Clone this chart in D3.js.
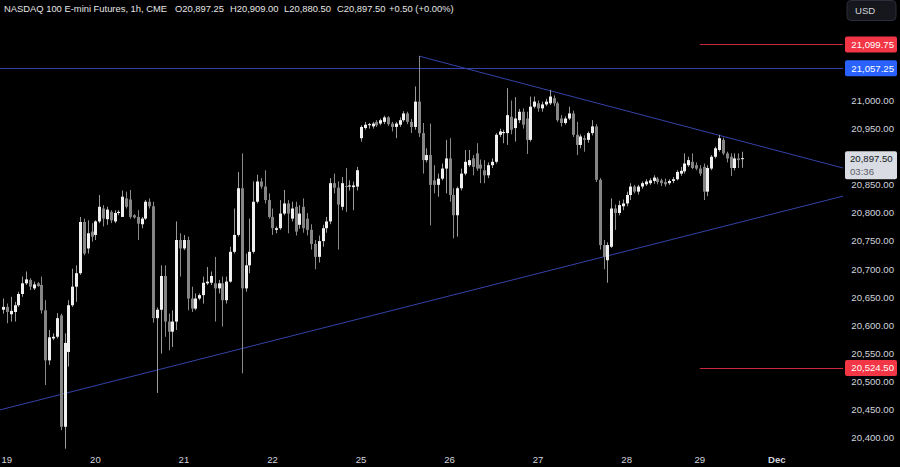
<!DOCTYPE html>
<html><head><meta charset="utf-8">
<script src="https://cdn.jsdelivr.net/npm/d3@7"></script>
<style>html,body{margin:0;padding:0;background:#000;overflow:hidden}</style>
</head><body><svg id="c" width="900" height="467"></svg>
<script>
// ---- DATA (hourly candles, [open, high, low, close]) ----
const candles = [
 [20628,20648,20621,20633],[20633,20639,20604,20624],[20620,20651,20607,20626],[20624,20642,20607,20636],
 [20636,20660,20633,20656],[20656,20687,20651,20675],[20675,20696,20672,20682],[20681,20684,20663,20669],
 [20666,20678,20663,20673],[20675,20677,20669,20670],[20672,20687,20621,20627],[20627,20645,20494,20538],
 [20538,20592,20530,20579],[20577,20586,20574,20580],[20580,20622,20577,20613],[20618,20621,20414,20420],
 [20420,20586,20381,20569],[20553,20645,20527,20636],[20636,20701,20633,20669],[20669,20707,20642,20693],
 [20693,20793,20690,20784],[20784,20790,20725,20728],[20737,20787,20728,20764],[20767,20782,20749,20758],
 [20761,20787,20752,20785],[20785,20832,20782,20811],[20808,20814,20776,20790],[20789,20811,20779,20806],
 [20802,20805,20782,20787],[20785,20805,20782,20800],[20800,20805,20796,20802],[20793,20840,20793,20829],
 [20826,20838,20808,20811],[20824,20841,20790,20793],[20796,20798,20790,20792],[20793,20805,20752,20781],
 [20780,20793,20773,20790],[20790,20823,20788,20820],[20820,20826,20808,20812],[20812,20820,20605,20613],
 [20613,20632,20480,20628],[20628,20707,20550,20688],[20688,20707,20580,20607],[20607,20621,20556,20589],
 [20589,20627,20562,20607],[20607,20785,20592,20752],[20752,20764,20687,20737],[20737,20761,20734,20752],
 [20752,20758,20627,20648],[20648,20669,20624,20630],[20630,20657,20627,20648],[20648,20657,20645,20654],
 [20654,20687,20639,20676],[20675,20704,20672,20678],[20676,20696,20672,20688],[20675,20722,20607,20666],
 [20666,20681,20657,20675],[20675,20687,20598,20645],[20645,20687,20639,20678],[20678,20740,20676,20731],
 [20731,20808,20728,20761],[20761,20873,20758,20844],[20844,20906,20515,20666],[20666,20728,20660,20707],
 [20707,20790,20693,20731],[20731,20856,20728,20820],[20820,20868,20817,20856],[20856,20862,20843,20847],
 [20847,20876,20817,20823],[20823,20835,20790,20793],[20793,20808,20761,20773],[20770,20776,20764,20773],
 [20773,20823,20770,20799],[20799,20841,20796,20817],[20817,20823,20764,20799],[20790,20820,20785,20808],
 [20811,20820,20760,20767],[20779,20814,20772,20799],[20811,20826,20765,20773],[20790,20800,20760,20770],
 [20770,20780,20735,20745],[20745,20752,20700,20722],[20722,20760,20712,20750],[20750,20779,20740,20773],
 [20773,20793,20765,20785],[20785,20862,20780,20853],[20853,20870,20835,20845],[20845,20856,20735,20815],
 [20811,20864,20805,20853],[20848,20880,20802,20847],[20847,20858,20840,20849],[20846,20856,20805,20849],
 [20847,20882,20840,20876],
 [20933,20956,20927,20953],[20951,20962,20948,20957],[20956,20960,20950,20958],[20954,20962,20950,20959],
 [20962,20965,20953,20956],[20959,20968,20956,20965],[20962,20973,20958,20970],[20970,20972,20955,20958],
 [20959,20962,20945,20953],[20953,20962,20933,20959],[20957,20970,20953,20965],[20965,20981,20962,20977],
 [20977,20980,20958,20962],[20962,20967,20942,20953],[20953,21025,20948,20998],[20998,21079,20935,20942],
 [20942,20960,20870,20894],[20894,20915,20890,20903],[20903,20959,20778,20850],[20858,20885,20835,20850],
 [20850,20870,20829,20861],[20861,20888,20858,20879],[20879,20930,20835,20897],
 [20897,20933,20820,20832],[20832,20844,20755,20796],[20796,20847,20758,20844],[20844,20879,20840,20870],
 [20870,20912,20867,20891],[20885,20912,20882,20894],[20897,20903,20867,20882],[20906,20924,20875,20879],
 [20886,20895,20853,20879],[20876,20894,20853,20867],[20867,20890,20862,20885],[20885,20897,20880,20891],
 [20891,20942,20888,20939],[20939,20950,20935,20945],[20942,20948,20924,20944],[20942,21022,20921,20974],
 [20971,21000,20940,20948],[20951,21006,20927,20968],[20965,20985,20960,20980],[20980,20986,20950,20957],
 [20968,20980,20905,20930],[20930,21007,20927,20989],[20989,21007,20986,20998],[20995,21000,20980,20986],
 [20986,20998,20980,20993],[20993,21003,20990,20998],[20995,21019,20992,21007],[21004,21009,20990,20995],
 [20995,20998,20962,20965],[20968,20974,20954,20960],[20960,20972,20957,20968],[20968,20989,20965,20977],
 [20977,20982,20935,20939],[20939,20962,20903,20921],[20921,20940,20915,20936],[20933,20938,20909,20930],
 [20930,20945,20925,20942],[20942,20965,20938,20954],[20954,20958,20855,20859],[20859,20862,20735,20743],
 [20743,20752,20700,20722],[20716,20748,20676,20743],[20740,20826,20738,20808],[20808,20815,20770,20800],
 [20800,20822,20796,20814],[20812,20824,20805,20817],
 [20817,20838,20812,20832],[20832,20853,20823,20847],[20847,20850,20835,20838],[20838,20850,20833,20847],
 [20847,20856,20843,20853],[20851,20860,20848,20856],[20853,20862,20850,20858],[20857,20867,20852,20863],
 [20861,20864,20851,20855],[20858,20861,20848,20853],[20855,20861,20847,20851],[20853,20860,20850,20857],
 [20857,20864,20853,20860],[20860,20876,20858,20873],[20870,20882,20866,20875],[20874,20906,20870,20888],
 [20885,20900,20882,20894],[20891,20906,20878,20880],[20885,20890,20876,20879],
 [20879,20885,20866,20870],[20882,20888,20823,20838],[20838,20885,20830,20880],[20879,20903,20876,20900],
 [20900,20918,20897,20915],[20912,20939,20909,20933],[20930,20934,20903,20906],[20906,20909,20890,20897],
 [20900,20906,20866,20880],[20880,20906,20876,20897],[20897,20906,20880,20894],[20897.25,20909,20880.5,20897.5]
];
const dayLabels = ["19","20","21","22","25","26","27","28","29","Dec"];
const dayStartIndex = [1,24,47,70,93,116,139,162,181,201];
const priceTicks = [20400,20450,20500,20550,20600,20650,20700,20750,20800,20850,20900,20950,21000,21050,21100];
const blueLevel = 21057.25;
const redLevels = [21099.75, 20524.50];
const redLineStartIndex = 181;
const upperTrend = [[108, 21079], [218.2, 20880]];
const lowerTrend = [[-0.78, 20450], [218.2, 20830]];
const lastPrice = 20897.50;
const countdown = "03:36";
const titleParts = [
  {t:"NASDAQ 100 E-mini Futures, 1h, CME", x:4},
  {t:"O20,897.25", x:175},
  {t:"H20,909.00", x:230},
  {t:"L20,880.50", x:284},
  {t:"C20,897.50", x:337},
  {t:"+0.50 (+0.00%)", x:389}
];

// ---- CHART ----
const W = 900, H = 467, plotRight = 843;
const svg = d3.select("#c");
svg.append("rect").attr("width",W).attr("height",H).attr("fill","#000");
const FONT = "Liberation Sans, Arial, sans-serif";
const AXFS = 9.6;

const x = d3.scaleLinear().domain([-0.78, 218.2]).range([0, plotRight]);
const y = d3.scaleLinear().domain([20400, 21000]).range([438, 100.5]);

const plot = svg.append("g");
plot.append("line").attr("x1",0).attr("x2",plotRight)
  .attr("y1",Math.round(y(blueLevel))+0.5).attr("y2",Math.round(y(blueLevel))+0.5)
  .attr("stroke","#3343a8").attr("stroke-width",1);
redLevels.forEach(v=>{
  plot.append("line").attr("x1",x(redLineStartIndex)).attr("x2",plotRight)
    .attr("y1",Math.round(y(v))+0.5).attr("y2",Math.round(y(v))+0.5)
    .attr("stroke","#c8283a").attr("stroke-width",1);
});
[upperTrend, lowerTrend].forEach(t=>{
  plot.append("line").attr("x1",x(t[0][0])).attr("y1",y(t[0][1]))
    .attr("x2",x(t[1][0])).attr("y2",y(t[1][1]))
    .attr("stroke","#3343a8").attr("stroke-width",1);
});

const cg = plot.append("g");
candles.forEach((c,i)=>{
  const [o,h,l,cl] = c;
  const cx = Math.round(x(i));
  const up = cl >= o;
  cg.append("line").attr("x1",cx+0.5).attr("x2",cx+0.5)
    .attr("y1",y(h)).attr("y2",y(l))
    .attr("stroke", up ? "#9a9a9a" : "#8a8a8a").attr("stroke-width",1);
  const top = y(Math.max(o,cl)), bot = y(Math.min(o,cl));
  cg.append("rect").attr("x",cx-1).attr("width",3)
    .attr("y",top).attr("height",Math.max(1,bot-top))
    .attr("fill", up ? "#f0f0f0" : "#858585");
});

const boxes = [
  {v:redLevels[0], h:16, fill:"#f23645"},
  {v:blueLevel, h:16, fill:"#2962ff"},
  {v:redLevels[1], h:16, fill:"#f23645"},
  {v:lastPrice, h:28, fill:"#d9dce3", top:-7}
];
function hidden(t){
  const ty = y(t);
  return boxes.some(b=>{
    const bt = b.top!==undefined ? y(b.v)+b.top : y(b.v)-b.h/2;
    return ty+5 > bt && ty-5 < bt+b.h;
  });
}
const ax = svg.append("g");
priceTicks.filter(t=>!hidden(t)).forEach(t=>{
  ax.append("text").attr("x",894).attr("y",y(t)).attr("dy","0.35em")
    .attr("text-anchor","end").attr("font-family",FONT).attr("font-size",AXFS)
    .attr("fill","#d1d4dc").text(d3.format(",.2f")(t));
});
boxes.forEach(b=>{
  const cy = y(b.v);
  const top = b.top!==undefined ? cy+b.top : cy-b.h/2;
  ax.append("rect").attr("x",845).attr("y",top).attr("width",52).attr("height",b.h)
    .attr("rx",2).attr("fill",b.fill);
  if (b.v === lastPrice) {
    ax.append("text").attr("x",850).attr("y",cy).attr("dy","0.35em")
      .attr("font-family",FONT).attr("font-size",AXFS).attr("fill","#131722")
      .text(d3.format(",.2f")(b.v));
    ax.append("text").attr("x",850).attr("y",cy+13.5).attr("dy","0.35em")
      .attr("font-family",FONT).attr("font-size",AXFS).attr("fill","#5d606b")
      .text(countdown);
  } else {
    ax.append("text").attr("x",894).attr("y",cy).attr("dy","0.35em")
      .attr("text-anchor","end").attr("font-family",FONT).attr("font-size",AXFS)
      .attr("fill","#ffffff").text(d3.format(",.2f")(b.v));
  }
});

svg.append("rect").attr("x",847).attr("y",0.5).attr("width",49).attr("height",20)
  .attr("rx",4).attr("fill","#15171c").attr("stroke","#2a2e39");
svg.append("text").attr("x",855).attr("y",11).attr("dy","0.35em")
  .attr("font-family",FONT).attr("font-size",AXFS).attr("fill","#d1d4dc").text("USD");

dayLabels.forEach((d,i)=>{
  svg.append("text").attr("x",x(dayStartIndex[i])).attr("y",460).attr("dy","0.35em")
    .attr("text-anchor","middle").attr("font-family",FONT).attr("font-size",AXFS)
    .attr("font-weight", d==="Dec" ? "bold" : "normal")
    .attr("fill","#d1d4dc").text(d);
});

titleParts.forEach(p=>{
  svg.append("text").attr("x",p.x).attr("y",9).attr("dy","0.35em")
    .attr("font-family",FONT).attr("font-size",9.4).attr("fill","#e6e6e6").text(p.t);
});
</script></body></html>
